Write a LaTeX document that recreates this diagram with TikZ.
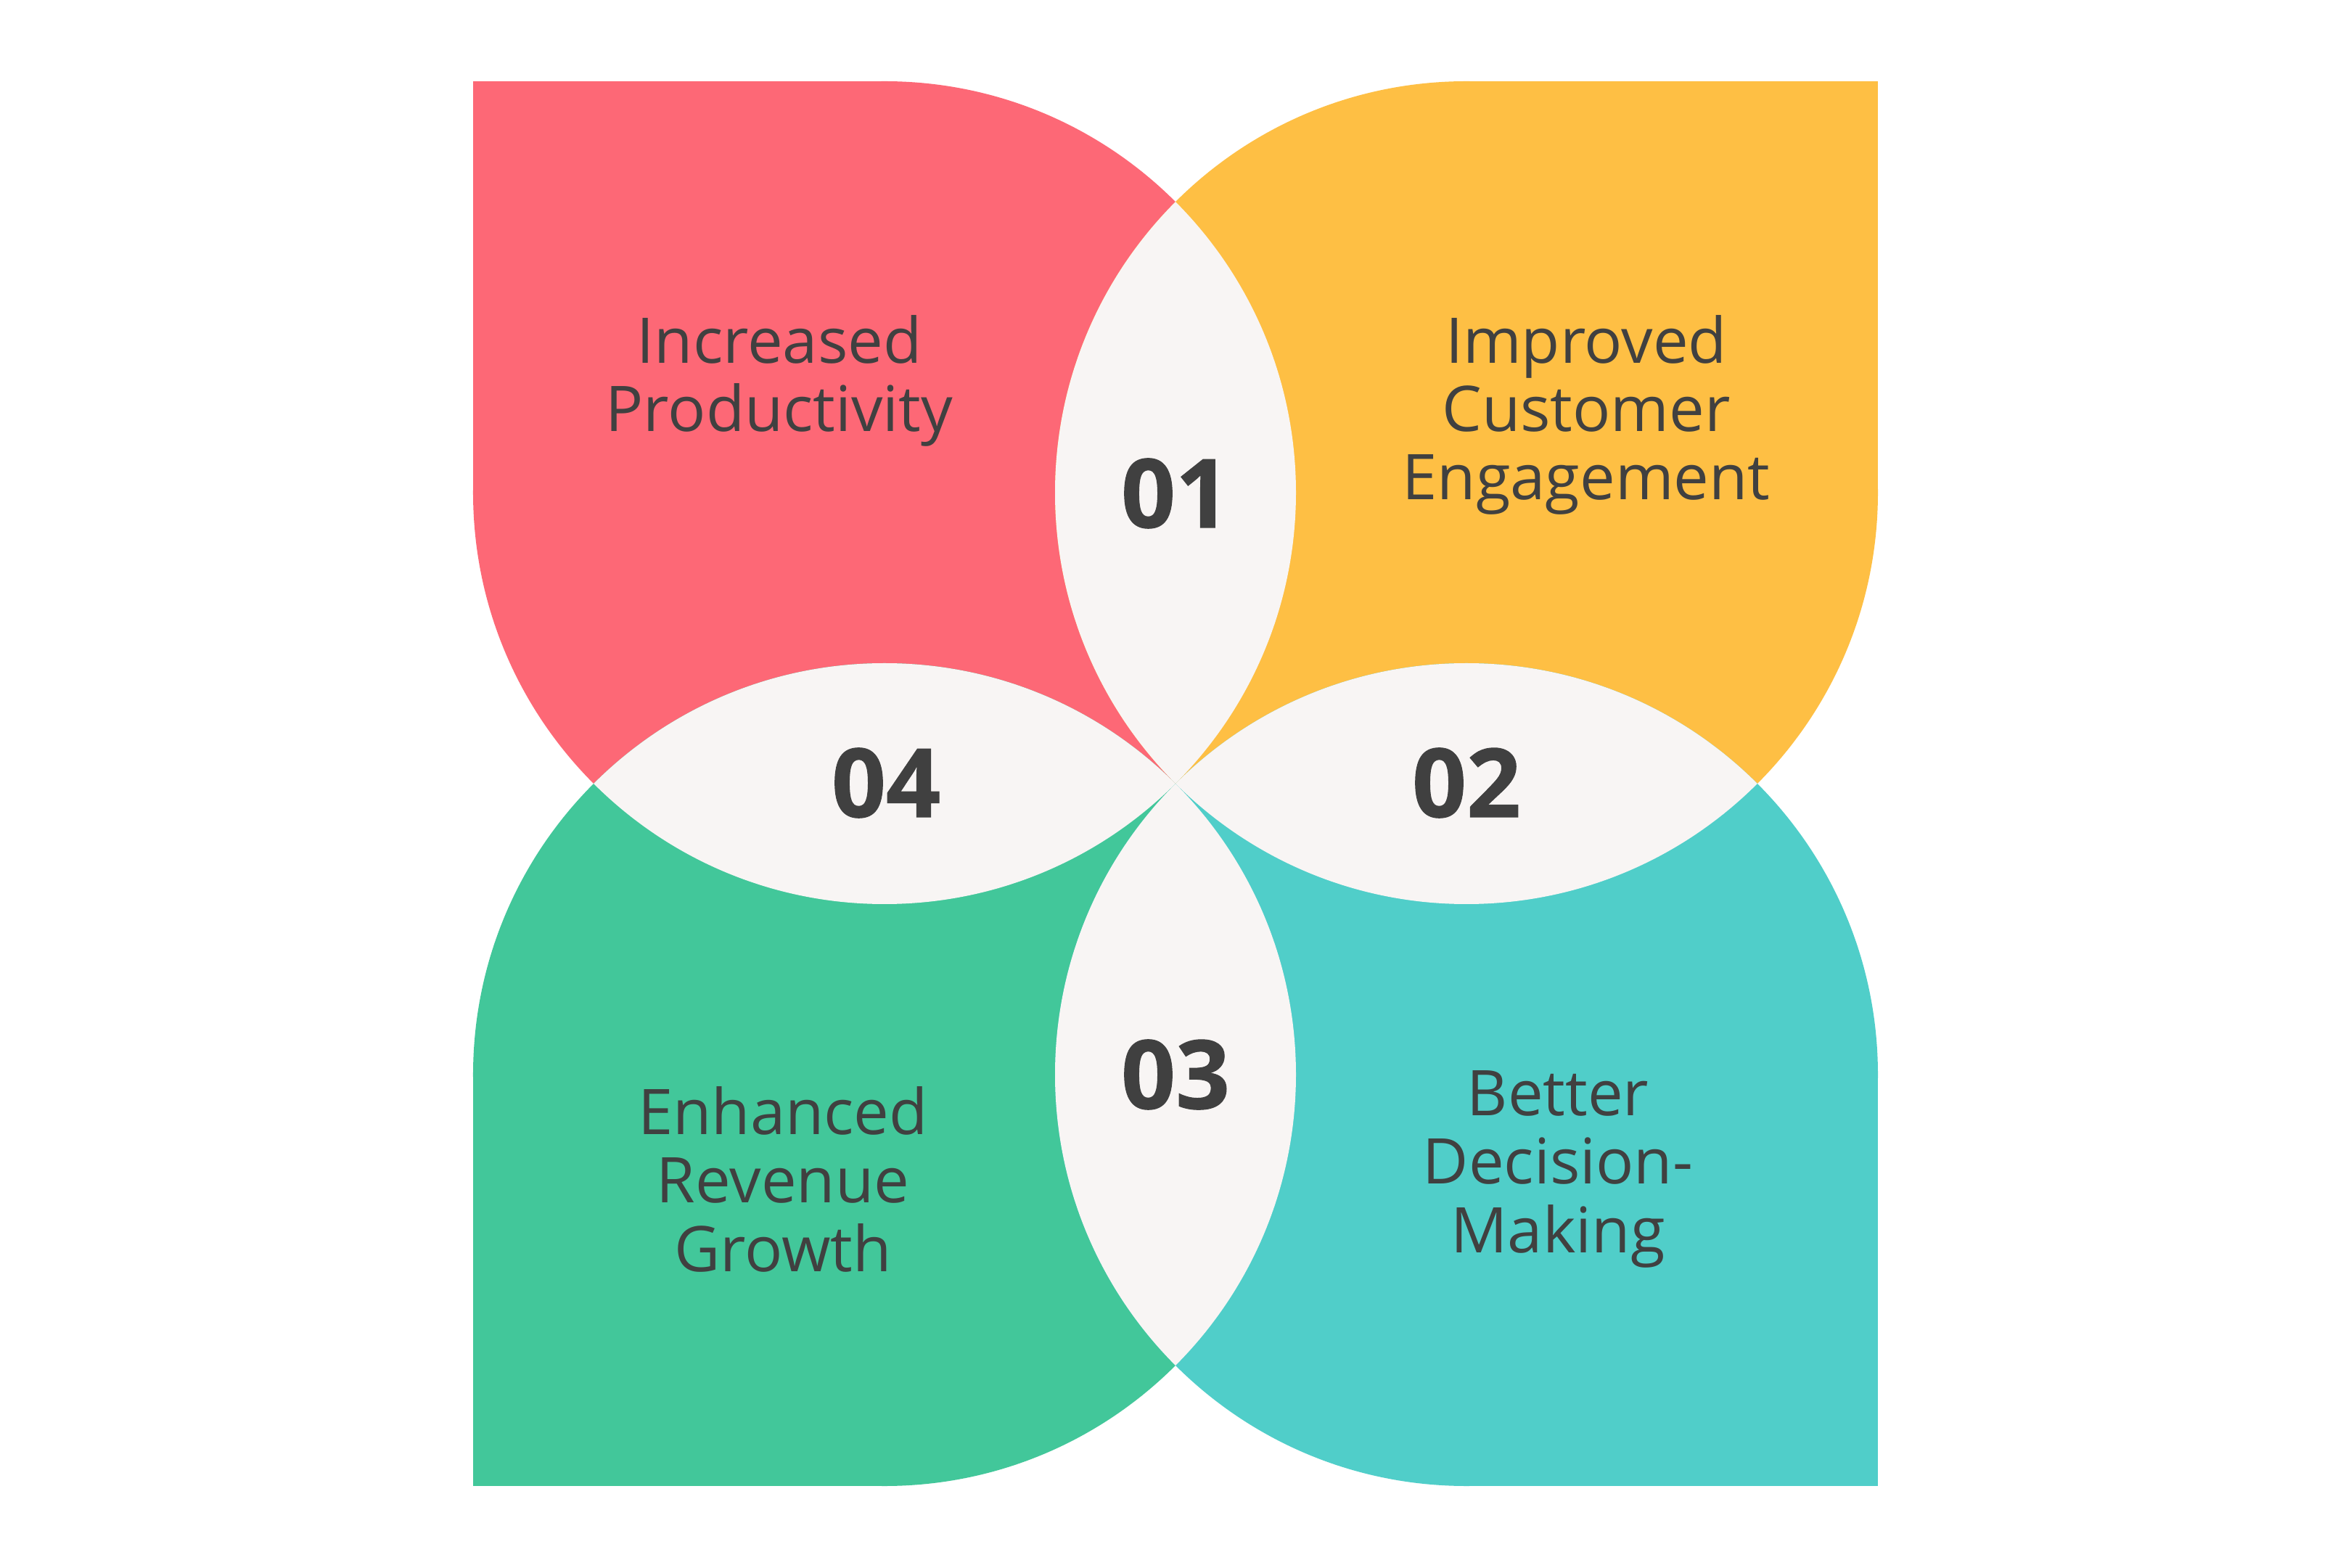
\documentclass[tikz,border=0pt]{standalone}
\usepackage{fontspec}
\setmainfont{Open Sans}
\newfontfamily\numfont[BoldFeatures={FakeBold=0.8}]{Open Sans}
\usetikzlibrary{positioning}

\definecolor{petalred}{HTML}{FD6876}
\definecolor{petalyellow}{HTML}{FEBF44}
\definecolor{petalgreen}{HTML}{42C79A}
\definecolor{petalteal}{HTML}{50CEC9}
\definecolor{lensgrey}{HTML}{F8F5F4}
\definecolor{inkgrey}{HTML}{404040}

\tikzset{
  label/.style={text=inkgrey, align=center, anchor=base, inner sep=0pt,
    font=\fontsize{24.7}{26.8}\selectfont},
  number/.style={text=inkgrey, anchor=base, inner sep=0pt,
    font=\numfont\fontsize{37.4}{40}\selectfont\bfseries}
}

\def\pgap{4.01}
\def\prad{5.67}

\begin{document}
\begin{tikzpicture}
\useasboundingbox[fill=white] (-16.2,-10.8) rectangle (16.2,10.8);

% petals: one circle each plus its square corner
\fill[petalred] (-\pgap,\pgap) circle (\prad);
\fill[petalred] (-\pgap-\prad,\pgap) rectangle (-\pgap,\pgap+\prad);
\fill[petalyellow] (\pgap,\pgap) circle (\prad);
\fill[petalyellow] (\pgap,\pgap) rectangle (\pgap+\prad,\pgap+\prad);
\fill[petalgreen] (-\pgap,-\pgap) circle (\prad);
\fill[petalgreen] (-\pgap-\prad,-\pgap-\prad) rectangle (-\pgap,-\pgap);
\fill[petalteal] (\pgap,-\pgap) circle (\prad);
\fill[petalteal] (\pgap,-\pgap-\prad) rectangle (\pgap+\prad,-\pgap);

% lenses where the petals overlap
\begin{scope}
  \clip (-\pgap,\pgap) circle (\prad);
  \fill[lensgrey] (\pgap,\pgap) circle (\prad);
  \fill[lensgrey] (-\pgap,-\pgap) circle (\prad);
\end{scope}
\begin{scope}
  \clip (\pgap,-\pgap) circle (\prad);
  \fill[lensgrey] (\pgap,\pgap) circle (\prad);
  \fill[lensgrey] (-\pgap,-\pgap) circle (\prad);
\end{scope}

\node[number] (n01) at (0,3.53) {01};
\node[number] (n02) at (4.01,-0.46) {02};
\node[number] (n03) at (0,-4.48) {03};
\node[number] (n04) at (-3.99,-0.46) {04};

% base anchor sits on the last line
\node[label] (productivity) at (-5.46,4.85) {Increased\\Productivity};
\node[label] (engagement) at (5.66,3.91) {Improved\\Customer\\Engagement};
\node[label] (revenue) at (-5.41,-6.72) {Enhanced\\Revenue\\Growth};
\node[label] (decision) at (5.27,-6.46) {Better\\Decision-\\Making};
\end{tikzpicture}
\end{document}
